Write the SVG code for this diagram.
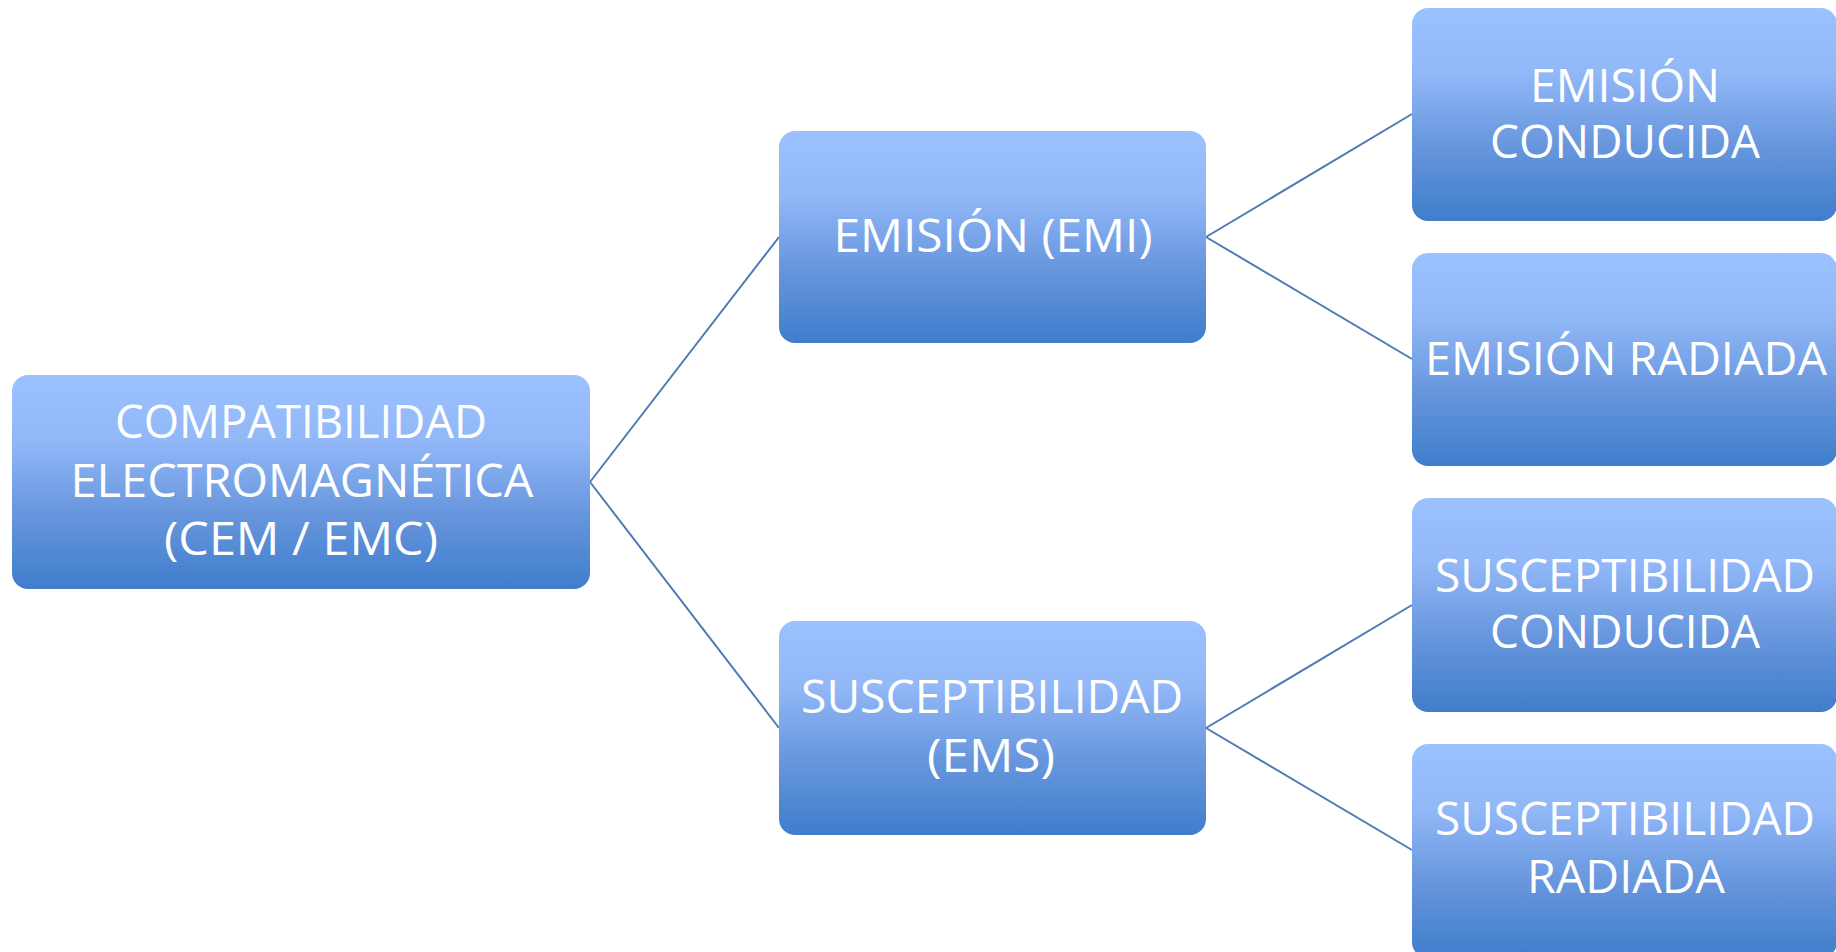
<svg xmlns="http://www.w3.org/2000/svg" width="1836" height="952" viewBox="0 0 1836 952">
<defs>
<linearGradient id="g" x1="0" y1="0" x2="0" y2="1">
<stop offset="0" stop-color="#9cc1ff"/>
<stop offset="0.3" stop-color="#92b8f8"/>
<stop offset="0.65" stop-color="#6796dd"/>
<stop offset="1" stop-color="#3f7dcb"/>
</linearGradient>
</defs>
<style>
.box{fill:url(#g);}
.t{fill:#ffffff;font-family:"Open Sans","Noto Sans","Liberation Sans",sans-serif;font-size:46px;text-anchor:middle;}
.c{stroke:#4f7bb5;stroke-width:2;fill:none;}
</style>
<rect width="1836" height="952" fill="#ffffff"/>
<g id="connectors">
<line class="c" x1="590" y1="482" x2="779" y2="237"/>
<line class="c" x1="590" y1="482" x2="779" y2="728"/>
<line class="c" x1="1206" y1="237" x2="1412" y2="114"/>
<line class="c" x1="1206" y1="237" x2="1412" y2="359"/>
<line class="c" x1="1206" y1="728" x2="1412" y2="605"/>
<line class="c" x1="1206" y1="728" x2="1412" y2="850"/>
</g>
<g id="root">
<rect class="box" x="12" y="375" width="578" height="214" rx="16"/>
<text class="t" x="301" y="438" textLength="372" lengthAdjust="spacingAndGlyphs">COMPATIBILIDAD</text>
<text class="t" x="302" y="497" textLength="463" lengthAdjust="spacingAndGlyphs">ELECTROMAGNÉTICA</text>
<text class="t" x="301" y="555" textLength="274" lengthAdjust="spacingAndGlyphs">(CEM / EMC)</text>
</g>
<g id="emi">
<rect class="box" x="779" y="131" width="427" height="212" rx="16"/>
<text class="t" x="993" y="252" textLength="319" lengthAdjust="spacingAndGlyphs">EMISIÓN (EMI)</text>
</g>
<g id="ems">
<rect class="box" x="779" y="621" width="427" height="214" rx="16"/>
<text class="t" x="992" y="713" textLength="382" lengthAdjust="spacingAndGlyphs">SUSCEPTIBILIDAD</text>
<text class="t" x="991" y="772" textLength="128" lengthAdjust="spacingAndGlyphs">(EMS)</text>
</g>
<g id="emision-conducida">
<rect class="box" x="1412" y="8" width="425" height="213" rx="16"/>
<text class="t" x="1625" y="102" textLength="190" lengthAdjust="spacingAndGlyphs">EMISIÓN</text>
<text class="t" x="1625" y="158" textLength="270" lengthAdjust="spacingAndGlyphs">CONDUCIDA</text>
</g>
<g id="emision-radiada">
<rect class="box" x="1412" y="253" width="425" height="213" rx="16"/>
<text class="t" x="1626" y="375" textLength="402" lengthAdjust="spacingAndGlyphs">EMISIÓN RADIADA</text>
</g>
<g id="susceptibilidad-conducida">
<rect class="box" x="1412" y="498" width="425" height="214" rx="16"/>
<text class="t" x="1625" y="592" textLength="380" lengthAdjust="spacingAndGlyphs">SUSCEPTIBILIDAD</text>
<text class="t" x="1625" y="648" textLength="270" lengthAdjust="spacingAndGlyphs">CONDUCIDA</text>
</g>
<g id="susceptibilidad-radiada">
<rect class="box" x="1412" y="744" width="425" height="214" rx="16"/>
<text class="t" x="1625" y="835" textLength="380" lengthAdjust="spacingAndGlyphs">SUSCEPTIBILIDAD</text>
<text class="t" x="1626" y="893" textLength="198" lengthAdjust="spacingAndGlyphs">RADIADA</text>
</g>
</svg>
